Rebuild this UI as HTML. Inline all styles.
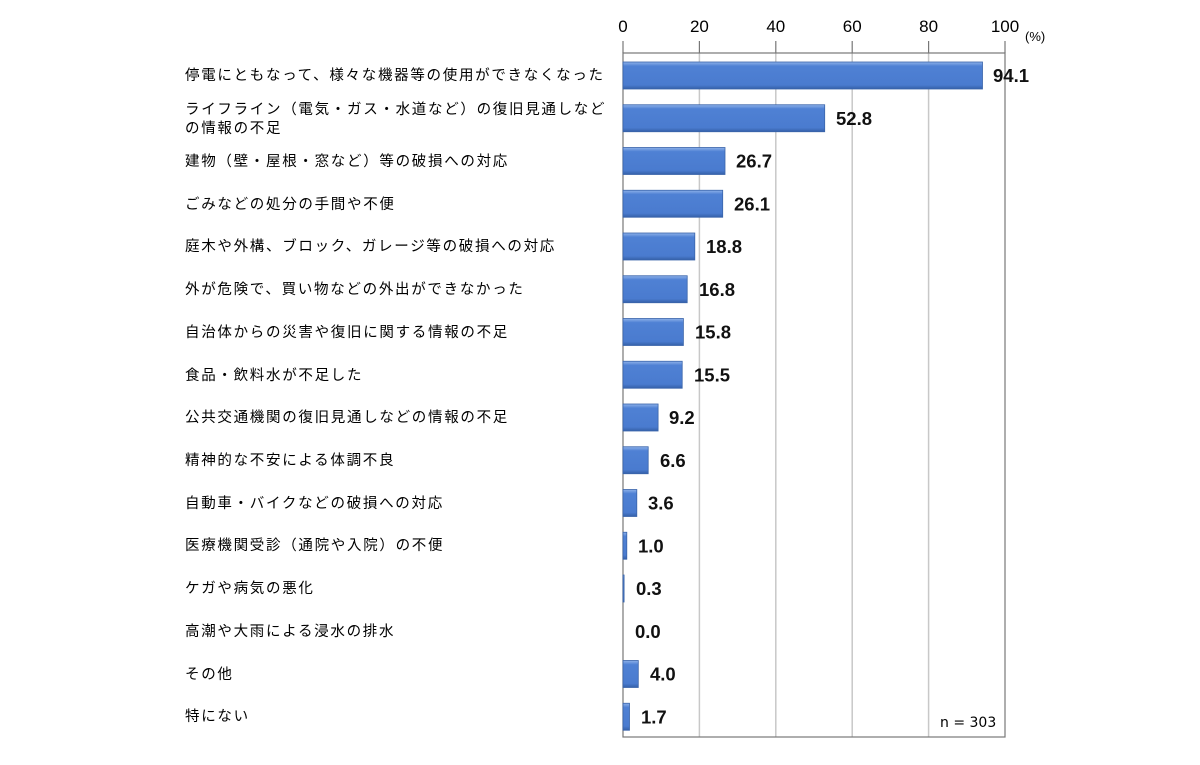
<!DOCTYPE html>
<html><head><meta charset="utf-8"><style>
body{margin:0;background:#fff;}
svg text{font-family:"Liberation Sans","Noto Sans CJK JP",sans-serif;}
</style></head><body>
<svg width="1200" height="760" viewBox="0 0 1200 760" xmlns="http://www.w3.org/2000/svg">
<defs>
<linearGradient id="g" x1="0" y1="0" x2="0" y2="1">
<stop offset="0" stop-color="#8fb2ea"/><stop offset="0.15" stop-color="#4f81d4"/><stop offset="0.85" stop-color="#4a7bcf"/><stop offset="1" stop-color="#3560a8"/>
</linearGradient>
</defs>
<g stroke="#c8c8c8" stroke-width="1.5">
<line x1="699.4" y1="53" x2="699.4" y2="737"/>
<line x1="775.8" y1="53" x2="775.8" y2="737"/>
<line x1="852.2" y1="53" x2="852.2" y2="737"/>
<line x1="928.6" y1="53" x2="928.6" y2="737"/>
</g>
<g stroke="#777" stroke-width="1.2" fill="none">
<rect x="623" y="53" width="382" height="684"/>
<line x1="623" y1="41" x2="623" y2="53"/><line x1="699.4" y1="41" x2="699.4" y2="53"/>
<line x1="775.8" y1="41" x2="775.8" y2="53"/><line x1="852.2" y1="41" x2="852.2" y2="53"/>
<line x1="928.6" y1="41" x2="928.6" y2="53"/><line x1="1005" y1="41" x2="1005" y2="53"/>
</g>
<g font-size="17" fill="#000" text-anchor="middle" style="font-family:'DejaVu Sans',sans-serif">
<text x="623" y="32">0</text><text x="699.4" y="32">20</text><text x="775.8" y="32">40</text>
<text x="852.2" y="32">60</text><text x="928.6" y="32">80</text><text x="1005" y="32">100</text>
</g>
<text x="1025" y="41" font-size="13">(%)</text>
<text x="940" y="727" font-size="14" style="font-family:'DejaVu Sans',sans-serif">n = 303</text>
<g fill="url(#g)" stroke="#3a64aa" stroke-width="0.8">
<rect x="623" y="62" width="359.5" height="27"/>
<rect x="623" y="104.75" width="201.7" height="27"/>
<rect x="623" y="147.5" width="102" height="27"/>
<rect x="623" y="190.25" width="99.7" height="27"/>
<rect x="623" y="233" width="71.8" height="27"/>
<rect x="623" y="275.75" width="64.2" height="27"/>
<rect x="623" y="318.5" width="60.4" height="27"/>
<rect x="623" y="361.25" width="59.2" height="27"/>
<rect x="623" y="404" width="35.1" height="27"/>
<rect x="623" y="446.75" width="25.2" height="27"/>
<rect x="623" y="489.5" width="13.8" height="27"/>
<rect x="623" y="532.25" width="3.8" height="27"/>
<rect x="623" y="575" width="1.1" height="27"/>
<rect x="623" y="660.5" width="15.3" height="27"/>
<rect x="623" y="703.25" width="6.5" height="27"/>
</g>
<g font-size="18.5" font-weight="bold" fill="#111" style="font-family:'DejaVu Sans',sans-serif">
<text x="993" y="82">94.1</text>
<text x="836" y="124.75">52.8</text>
<text x="736" y="167.5">26.7</text>
<text x="734" y="210.25">26.1</text>
<text x="706" y="253">18.8</text>
<text x="699" y="295.75">16.8</text>
<text x="695" y="338.5">15.8</text>
<text x="694" y="381.25">15.5</text>
<text x="669" y="424">9.2</text>
<text x="660" y="466.75">6.6</text>
<text x="648" y="509.5">3.6</text>
<text x="638" y="552.25">1.0</text>
<text x="636" y="595">0.3</text>
<text x="635" y="637.75">0.0</text>
<text x="650" y="680.5">4.0</text>
<text x="641" y="723.25">1.7</text>
</g>
<g font-size="14.5" fill="#000" letter-spacing="1.7">
<text x="185" y="80">停電にともなって、様々な機器等の使用ができなくなった</text>
<text x="185" y="114">ライフライン（電気・ガス・水道など）の復旧見通しなど</text>
<text x="185" y="133">の情報の不足</text>
<text x="185" y="166">建物（壁・屋根・窓など）等の破損への対応</text>
<text x="185" y="209">ごみなどの処分の手間や不便</text>
<text x="185" y="251">庭木や外構、ブロック、ガレージ等の破損への対応</text>
<text x="185" y="294">外が危険で、買い物などの外出ができなかった</text>
<text x="185" y="337">自治体からの災害や復旧に関する情報の不足</text>
<text x="185" y="380">食品・飲料水が不足した</text>
<text x="185" y="422">公共交通機関の復旧見通しなどの情報の不足</text>
<text x="185" y="465">精神的な不安による体調不良</text>
<text x="185" y="508">自動車・バイクなどの破損への対応</text>
<text x="185" y="550">医療機関受診（通院や入院）の不便</text>
<text x="185" y="593">ケガや病気の悪化</text>
<text x="185" y="636">高潮や大雨による浸水の排水</text>
<text x="185" y="679">その他</text>
<text x="185" y="721">特にない</text>
</g>
</svg>
</body></html>
